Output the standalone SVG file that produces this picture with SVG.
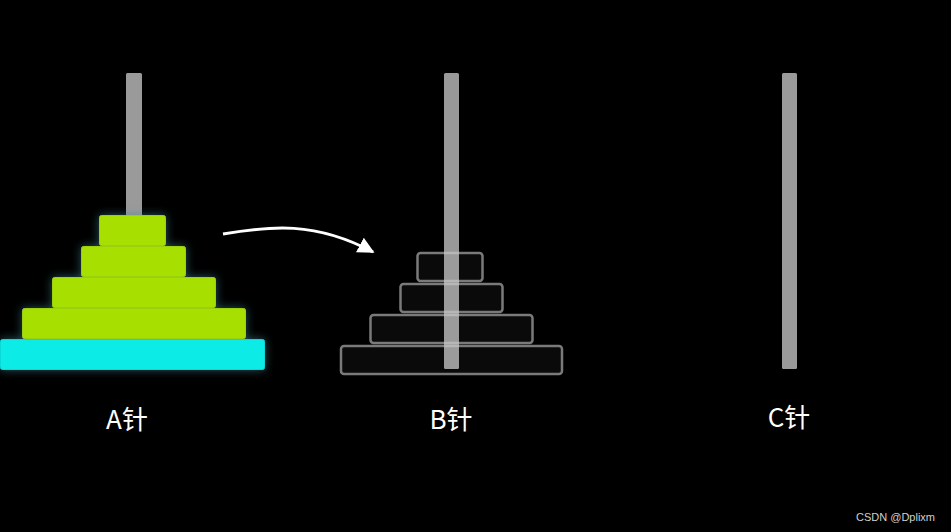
<svg xmlns="http://www.w3.org/2000/svg" width="951" height="532" viewBox="0 0 951 532">
<style>
.pole{fill:#9a9a9a}
.dg{fill:#a6df00;stroke:#9bd010;stroke-width:1}
.dc{fill:#0eebe6;stroke:#10d8d8;stroke-width:1}
.ghost{fill:#0a0a0a;stroke:#7a7a7a;stroke-width:2.5}
.lbl{font-family:"Noto Sans CJK SC","Noto Sans",sans-serif;font-size:26px;fill:#fff;text-anchor:middle}
.wm{font-family:"Liberation Sans",Arial,sans-serif;font-size:11px;fill:#d0d0d0}
</style>
<defs>
<filter id="g2" x="-20%" y="-30%" width="140%" height="160%">
<feGaussianBlur in="SourceGraphic" stdDeviation="5" result="b"/>
<feColorMatrix in="b" type="matrix" values="0 0 0 0 0.05 0 0 0 0 0.25 0 0 0 0 0.3 0 0 0 0.6 0" result="c"/>
<feMerge><feMergeNode in="c"/><feMergeNode in="SourceGraphic"/></feMerge>
</filter>
<marker id="ah" viewBox="0 0 10 10" refX="9" refY="5" markerWidth="5.5" markerHeight="5.5" orient="auto" markerUnits="strokeWidth">
<path d="M0,0 L10,5 L0,10 z" fill="#fff"/>
</marker>
</defs>
<rect width="951" height="532" fill="#000"/>
<g id="pegA">
<rect class="pole" x="126" y="73" width="16" height="296" rx="1.5"/>
<g filter="url(#g2)">
<rect class="dg" x="99.5" y="215.5" width="66" height="30" rx="2"/>
<rect class="dg" x="81.5" y="246.5" width="104" height="30" rx="2"/>
<rect class="dg" x="52.5" y="277.5" width="163" height="30" rx="2"/>
<rect class="dg" x="22.5" y="308.5" width="223" height="30" rx="2"/>
<rect class="dc" x="0.5" y="339.5" width="264" height="30" rx="2"/>
</g>
<text class="lbl" x="127" y="429">A针</text>
</g>
<g id="pegB">
<rect class="ghost" x="417.5" y="253" width="65" height="28" rx="3"/>
<rect class="ghost" x="400.5" y="284" width="102" height="28" rx="3"/>
<rect class="ghost" x="370.5" y="315" width="162" height="28" rx="3"/>
<rect class="ghost" x="341" y="346" width="221" height="28" rx="3"/>
<rect x="444" y="73" width="15" height="296" rx="1.5" fill="#cccccc" opacity="0.75"/>
<text class="lbl" x="451" y="429">B针</text>
</g>
<g id="pegC">
<rect class="pole" x="782" y="73" width="15" height="296" rx="1.5"/>
<text class="lbl" x="789" y="427">C针</text>
</g>
<g id="connectors">
<path d="M223,234 C270,226 315,221 373,252" fill="none" stroke="#fff" stroke-width="3" marker-end="url(#ah)"/>
</g>
<text class="wm" x="856" y="521">CSDN @Dplixm</text>
</svg>
